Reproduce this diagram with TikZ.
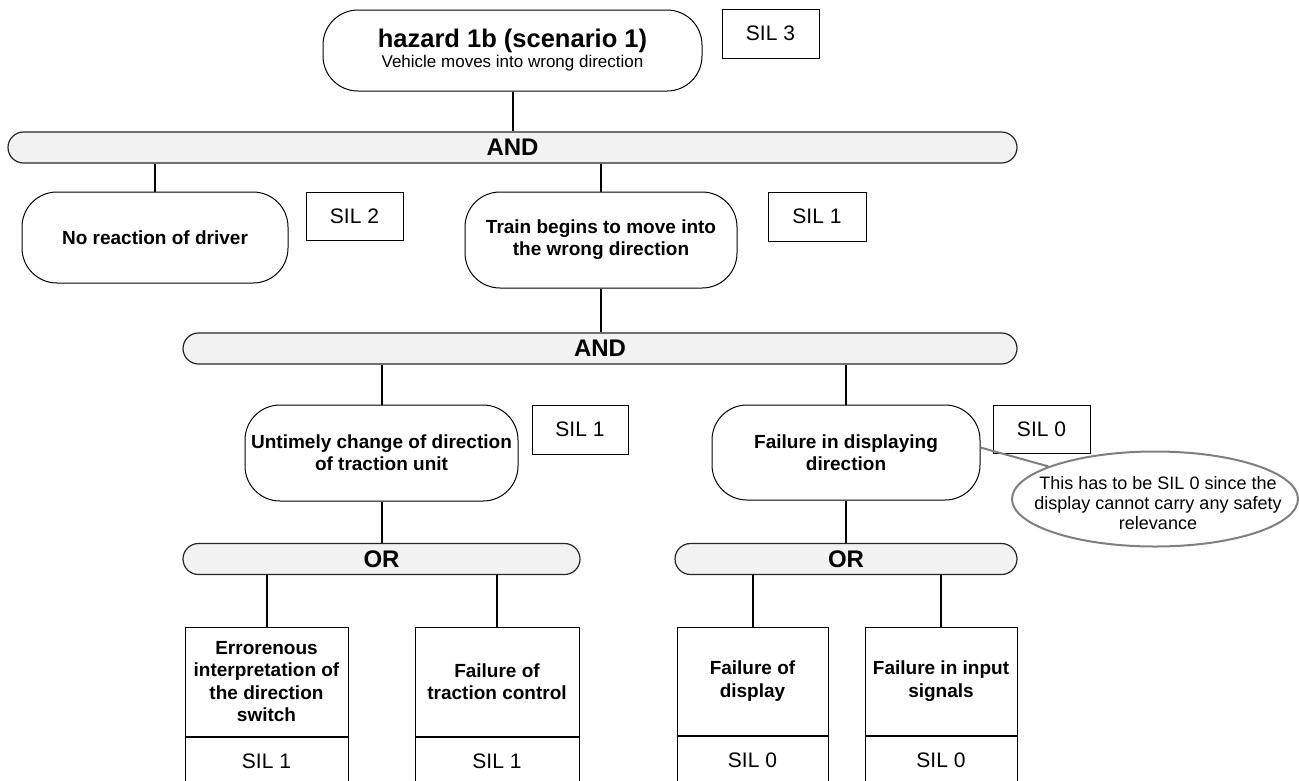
\documentclass[tikz,border=0pt]{standalone}
\usepackage{fontspec}
\setmainfont{Liberation Sans}
\usetikzlibrary{shapes.geometric}
\definecolor{barfill}{HTML}{F2F2F2}
\definecolor{notegray}{HTML}{7F7F7F}
\begin{document}
\begin{tikzpicture}[x=1pt,y=-1pt,
  ev/.style={draw, line width=1, rounded corners=35, align=center, inner sep=0,
    font=\fontsize{19}{22}\selectfont\bfseries},
  silbox/.style={draw, line width=1, inner sep=0, font=\fontsize{21}{24}\selectfont},
  gate/.style={draw=black!85, line width=1.2, fill=barfill, rounded corners=15.5, inner sep=0,
    minimum height=31, font=\fontsize{24}{28}\selectfont\bfseries},
  leaf/.style={draw, line width=1, inner sep=0, align=center,
    font=\fontsize{19}{22.5}\selectfont\bfseries},
  leafsil/.style={draw, line width=1, inner sep=0, minimum height=48,
    font=\fontsize{21}{24}\selectfont},
  conn/.style={line width=2},
  notebox/.style={ellipse, draw=notegray, line width=2, fill=white, inner sep=0,
    minimum width=286, minimum height=95},
  notetext/.style={align=center, inner sep=0, font=\fontsize{18}{20}\selectfont},
  tail/.style={draw=notegray, line width=2}
]
\useasboundingbox (0,0) rectangle (1299,780);
\clip (0,0) rectangle (1299,780);

% top event
\node[ev, minimum width=379, minimum height=81] (top) at (512.5,50.5) {};
\node[anchor=base, inner sep=0, font=\fontsize{25.5}{28}\selectfont\bfseries] (toptitle) at (512.5,47) {hazard 1b (scenario 1)};
\node[anchor=base, inner sep=0, font=\fontsize{17}{20}\selectfont] (topsub) at (512.5,67) {Vehicle moves into wrong direction};
\node[silbox, minimum width=97, minimum height=49] (sil3) at (770.5,33.5) {SIL 3};

% first AND
\node[gate, minimum width=1009] (and1) at (512.5,147.5) {AND};

\node[ev, minimum width=266, minimum height=91] (noreact) at (155,237.5) {No reaction of driver};
\node[silbox, minimum width=97, minimum height=48] (sil2) at (354.5,216) {SIL 2};

\node[ev, minimum width=272, minimum height=96] (train) at (601,240) {Train begins to move into\\the wrong direction};
\node[silbox, minimum width=98, minimum height=49] (sil1a) at (817,216.5) {SIL 1};

% second AND
\node[gate, minimum width=834] (and2) at (600,348.5) {AND};

\node[ev, minimum width=273, minimum height=96] (untimely) at (381.5,453) {Untimely change of direction\\of traction unit};
\node[silbox, minimum width=96, minimum height=49] (sil1b) at (580,429.5) {SIL 1};

\node[ev, minimum width=268, minimum height=95] (disp) at (846,452.5) {Failure in displaying\\direction};
\node[silbox, minimum width=97, minimum height=48] (sil0a) at (1041.5,429) {SIL 0};

% callout
\node[notebox] (note) at (1155,499) {};
\node[notetext] (notetxt) at (1158,503) {This has to be SIL 0 since the\\display cannot carry any safety\\relevance};
\draw[tail] ([yshift=5pt]disp.east) -- (note.163);

% OR gates
\node[gate, minimum width=397] (or1) at (381.5,559) {OR};
\node[gate, minimum width=342] (or2) at (846,559) {OR};

% leaves
\node[leaf, minimum width=163, minimum height=109] (leafA) at (266.5,681.5) {Errorenous\\interpretation of\\the direction\\switch};
\node[leafsil, minimum width=163, anchor=north] (leafAsil) at (leafA.south) {SIL 1};
\node[leaf, minimum width=164, minimum height=109] (leafB) at (497,681.5) {Failure of\\traction control};
\node[leafsil, minimum width=164, anchor=north] (leafBsil) at (leafB.south) {SIL 1};
\node[leaf, minimum width=151, minimum height=108] (leafC) at (752.5,681) {Failure of\\display};
\node[leafsil, minimum width=151, anchor=north] (leafCsil) at (leafC.south) {SIL 0};
\node[leaf, minimum width=152, minimum height=108] (leafD) at (941,681) {Failure in input\\signals};
\node[leafsil, minimum width=152, anchor=north] (leafDsil) at (leafD.south) {SIL 0};

% connectors
\draw[conn] (top.south) -- (and1.north);
\draw[conn] (noreact.north |- and1.south) -- (noreact.north);
\draw[conn] (train.north |- and1.south) -- (train.north);
\draw[conn] (train.south) -- (train.south |- and2.north);
\draw[conn] (untimely.north |- and2.south) -- (untimely.north);
\draw[conn] (disp.north |- and2.south) -- (disp.north);
\draw[conn] (untimely.south) -- (untimely.south |- or1.north);
\draw[conn] (disp.south) -- (disp.south |- or2.north);
\draw[conn] (leafA.north |- or1.south) -- (leafA.north);
\draw[conn] (leafB.north |- or1.south) -- (leafB.north);
\draw[conn] (leafC.north |- or2.south) -- (leafC.north);
\draw[conn] (leafD.north |- or2.south) -- (leafD.north);
\end{tikzpicture}
\end{document}
